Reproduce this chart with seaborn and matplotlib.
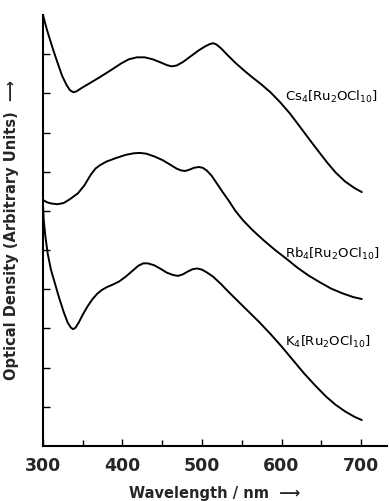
import matplotlib
matplotlib.use("Agg")
import matplotlib.pyplot as plt
import seaborn as sns
import pandas as pd

# wavelength (nm) / optical density (arbitrary, offset)
cs_wl = [300, 302, 305, 309, 313, 318, 324, 330, 334, 338, 342, 348, 358, 372, 386, 398, 408, 418, 428, 438, 448, 456, 462, 468, 476, 486, 496, 504, 510, 514, 518, 524, 532, 542, 552, 562, 574, 586, 598, 610, 622, 636, 648, 658, 668, 680, 692, 701]
cs_od = [11.0, 10.85, 10.62, 10.36, 10.1, 9.8, 9.45, 9.2, 9.08, 9.03, 9.05, 9.13, 9.25, 9.42, 9.6, 9.76, 9.87, 9.92, 9.92, 9.87, 9.79, 9.72, 9.69, 9.71, 9.8, 9.95, 10.1, 10.2, 10.26, 10.28, 10.25, 10.15, 9.98, 9.78, 9.6, 9.43, 9.24, 9.03, 8.78, 8.5, 8.18, 7.8, 7.48, 7.22, 6.98, 6.75, 6.58, 6.48]

rb_wl = [300, 305, 310, 318, 326, 334, 344, 352, 360, 366, 372, 380, 392, 404, 414, 422, 430, 440, 450, 460, 468, 474, 479, 484, 490, 496, 501, 506, 512, 518, 526, 534, 542, 552, 564, 578, 592, 606, 620, 634, 648, 662, 676, 690, 701]
rb_od = [6.28, 6.22, 6.19, 6.17, 6.2, 6.3, 6.45, 6.65, 6.92, 7.08, 7.17, 7.26, 7.35, 7.43, 7.47, 7.48, 7.46, 7.39, 7.3, 7.18, 7.08, 7.03, 7.02, 7.05, 7.1, 7.12, 7.1, 7.03, 6.9, 6.72, 6.48, 6.25, 6.0, 5.75, 5.5, 5.24, 5.0, 4.78, 4.55, 4.35, 4.18, 4.02, 3.9, 3.8, 3.75]

k_wl = [300, 301, 303, 306, 310, 315, 320, 326, 331, 335, 338, 341, 345, 350, 356, 362, 368, 374, 380, 388, 396, 404, 412, 420, 426, 432, 440, 448, 456, 464, 470, 476, 482, 488, 494, 500, 506, 514, 524, 534, 546, 558, 572, 586, 600, 614, 628, 642, 656, 668, 680, 692, 701]
k_od = [6.15, 5.75, 5.35, 4.9, 4.5, 4.15, 3.8, 3.42, 3.15, 3.02, 2.98, 3.02, 3.15, 3.35, 3.56, 3.74, 3.88, 3.98, 4.05, 4.12, 4.2, 4.32, 4.46, 4.6, 4.66, 4.66, 4.61, 4.52, 4.42, 4.36, 4.34, 4.38, 4.45, 4.51, 4.53, 4.5, 4.43, 4.32, 4.13, 3.92, 3.68, 3.44, 3.16, 2.86, 2.54, 2.2, 1.86, 1.55, 1.26, 1.05, 0.88, 0.74, 0.66]

labels = {
    "Cs": r"Cs$_4$[Ru$_2$OCl$_{10}$]",
    "Rb": r"Rb$_4$[Ru$_2$OCl$_{10}$]",
    "K": r"K$_4$[Ru$_2$OCl$_{10}$]",
}
label_pos = {"Cs": (605, 8.9), "Rb": (605, 4.9), "K": (605, 2.65)}

df = pd.concat([
    pd.DataFrame({"wl": cs_wl, "od": cs_od, "salt": "Cs"}),
    pd.DataFrame({"wl": rb_wl, "od": rb_od, "salt": "Rb"}),
    pd.DataFrame({"wl": k_wl, "od": k_od, "salt": "K"}),
])

sns.set_theme(style="ticks")
plt.rcParams["font.family"] = ["DejaVu Sans"]

fig = plt.figure(figsize=(3.89, 5.01), dpi=100)
ax = fig.add_axes([0.1105, 0.11, 0.885, 0.86])

for salt, g in df.groupby("salt", sort=False):
    sns.lineplot(data=g, x="wl", y="od", ax=ax, color="black", linewidth=1.4,
                 sort=False, estimator=None, legend=False)
    x, y = label_pos[salt]
    ax.text(x, y, labels[salt], fontsize=9.5, color="black", ha="left", va="center")

ax.set_xlim(300, 733)
ax.set_ylim(0, 11)
ax.set_xticks([300, 400, 500, 600, 700])
ax.set_xticks([350, 450, 550, 650], minor=True)
ax.set_yticks(range(1, 11))
ax.set_yticklabels([])
ax.tick_params(axis="both", which="both", direction="in", color="black", width=1.0)
ax.tick_params(axis="x", which="major", length=5, labelsize=12.5, pad=8)
ax.tick_params(axis="x", which="minor", length=4)
ax.tick_params(axis="y", length=5)
for t in ax.get_xticklabels():
    t.set_fontweight("bold")

for side in ["top", "right"]:
    ax.spines[side].set_visible(False)
for side in ["left", "bottom"]:
    ax.spines[side].set_color("black")
    ax.spines[side].set_linewidth(1.5)

ax.set_xlabel("Wavelength / nm  \u27f6", fontsize=10.5, fontweight="bold", labelpad=8)
ax.set_ylabel("Optical Density (Arbitrary Units)  \u27f6", fontsize=10.5, fontweight="bold", labelpad=14)

fig.savefig("out.png", dpi=100)
